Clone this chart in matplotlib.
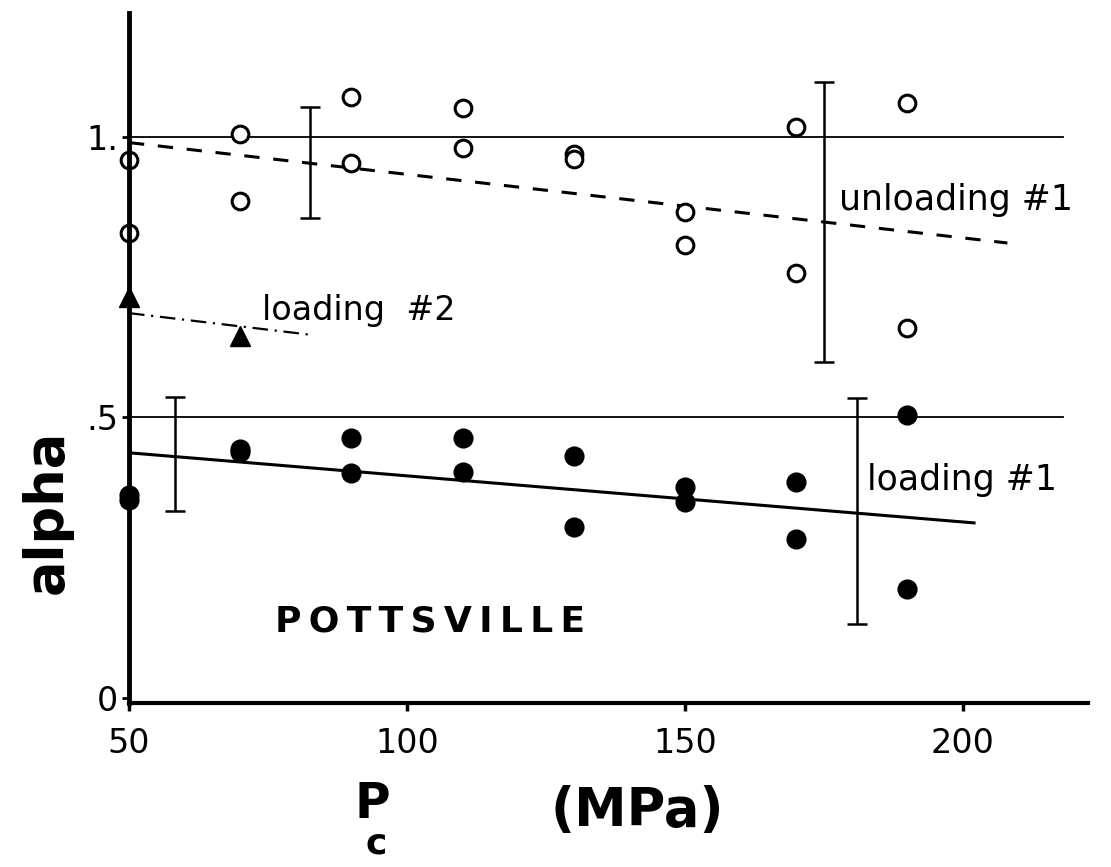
"""
Pottsville: alpha against confining pressure
"""
import numpy as np
import matplotlib.pyplot as plt

# confining pressure (MPa) of each test pair
pc = [50, 70, 90, 110, 130, 150, 170, 190]

# unloading #1 (open circles), two samples per pressure
unload_a = [0.959, 1.005, 1.071, 1.052, 0.970, 0.866, 1.018, 1.061]
unload_b = [0.829, 0.886, 0.954, 0.980, 0.961, 0.807, 0.758, 0.660]

# loading #1 (filled circles)
load_a = [0.362, 0.444, 0.463, 0.463, 0.431, 0.376, 0.385, 0.504]
load_b = [0.352, 0.438, 0.401, 0.403, 0.305, 0.349, 0.283, 0.194]

# loading #2 (triangles)
load2_pc = [50, 70]
load2 = [0.715, 0.645]

# fitted trend lines, end points
unload_fit_pc = [50, 208]
unload_fit = [0.990, 0.811]
load_fit_pc = [50, 202]
load_fit = [0.437, 0.312]
load2_fit_pc = [50, 83]
load2_fit = [0.686, 0.647]

# scatter bars: position, centre, half height
bar_pc = [82.6, 175, 58.3, 181]
bar_mid = [0.955, 0.848, 0.435, 0.333]
bar_half = [0.099, 0.250, 0.102, 0.201]

# reference levels
ref_levels = [1.0, 0.5]

xticks = [50, 100, 150, 200]
yticks = [0, 0.5, 1.0]
ytick_labels = ['0', '.5', '1.']

fig = plt.figure(figsize=(11.11, 8.67), dpi=100)
ax = fig.add_axes([0.1161, 0.1892, 0.8632, 0.7958])

# horizontal reference lines
for lev in ref_levels:
    ax.plot([50, 218], [lev, lev], color='black', lw=1.3)

# trend lines
ax.plot(unload_fit_pc, unload_fit, color='black', lw=2.2, linestyle=(0, (5, 4.5)))
ax.plot(load_fit_pc, load_fit, color='black', lw=2.2)
ax.plot(load2_fit_pc, load2_fit, color='black', lw=1.6, linestyle=(0, (7, 3, 1, 3)))

# scatter bars
ax.errorbar(bar_pc, bar_mid, yerr=bar_half, fmt='none', ecolor='black',
            elinewidth=1.8, capsize=7.5, capthick=1.8)

# data points
ax.plot(pc, unload_a, 'o', mfc='white', mec='black', ms=12, mew=2.2, clip_on=False)
ax.plot(pc, unload_b, 'o', mfc='white', mec='black', ms=12, mew=2.2, clip_on=False)
ax.plot(pc, load_a, 'o', color='black', ms=13.5, clip_on=False)
ax.plot(pc, load_b, 'o', color='black', ms=13.5, clip_on=False)
ax.plot(load2_pc, load2, '^', color='black', ms=15, clip_on=False)

# labels inside the plot
ax.text(177.7, 0.870, 'unloading #1', fontsize=25, va='baseline', ha='left')
ax.text(182.7, 0.371, 'loading #1', fontsize=25, va='baseline', ha='left')
ax.text(73.9, 0.674, 'loading  #2', fontsize=24, va='baseline', ha='left')
ax.text(76.3, 0.118, 'P\u2009O\u2009T\u2009T\u2009S\u2009V\u2009I\u2009L\u2009L\u2009E',
        fontsize=26, fontweight='bold', va='baseline', ha='left')

# axes
ax.set_xlim(50, 222.5)
ax.set_ylim(-0.009, 1.221)
ax.spines['top'].set_visible(False)
ax.spines['right'].set_visible(False)
ax.spines['left'].set_linewidth(3.5)
ax.spines['bottom'].set_linewidth(3)

ax.set_xticks(xticks)
ax.set_xticklabels([str(t) for t in xticks])
ax.set_yticks(yticks)
ax.set_yticklabels(ytick_labels)
ax.tick_params(axis='x', direction='out', length=6, width=2.5, labelsize=24, pad=11)
ax.tick_params(axis='y', direction='out', length=5, width=2, labelsize=24, pad=3)

# axis titles
fig.text(0.042, 0.41, 'alpha', rotation=90, fontsize=38, fontweight='bold',
         ha='center', va='center')
fig.text(0.335, 0.056, 'P', fontsize=35, fontweight='bold', ha='center', va='baseline')
fig.text(0.339, 0.016, 'c', fontsize=26, fontweight='bold', ha='center', va='baseline')
fig.text(0.574, 0.047, '(MPa)', fontsize=38, fontweight='bold', ha='center', va='baseline')

fig.savefig('out.png', dpi=100, facecolor='white')
